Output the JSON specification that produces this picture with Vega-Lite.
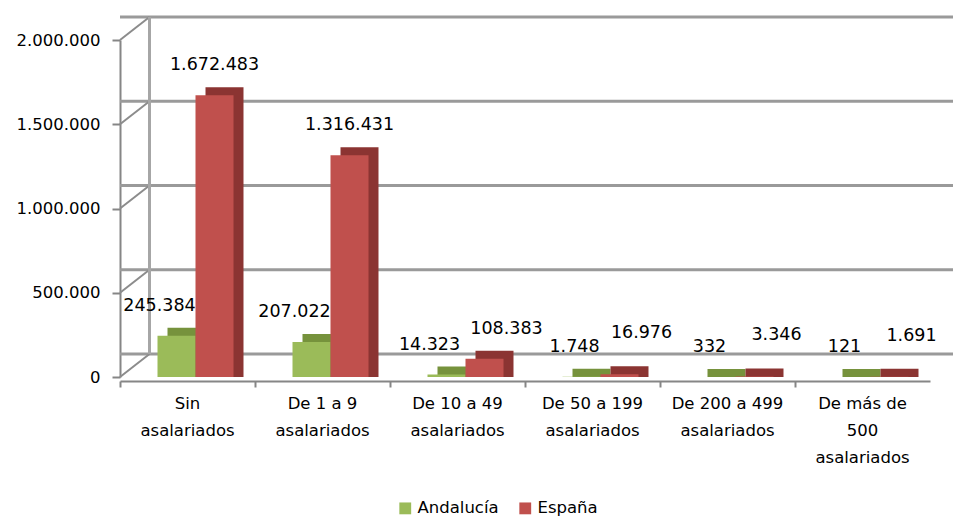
{
  "$schema": "https://vega.github.io/schema/vega-lite/v6.json",
  "width": 810,
  "height": 337,
  "autosize": "none",
  "padding": {"left": 120, "top": 40, "right": 23, "bottom": 142},
  "background": "white",
  "config": {
    "locale": {"number": {"decimal": ",", "thousands": ".", "grouping": [3], "currency": ["", ""]}},
    "font": "DejaVu Sans",
    "view": {"stroke": null},
    "text": {"font": "DejaVu Sans"}
  },
  "resolve": {"scale": {"color": "independent", "xOffset": "independent"}},
  "data": {
    "values": [
      {"cat": "Sin asalariados", "serie": "Andalucía", "valor": 245384},
      {"cat": "Sin asalariados", "serie": "España", "valor": 1672483},
      {"cat": "De 1 a 9 asalariados", "serie": "Andalucía", "valor": 207022},
      {"cat": "De 1 a 9 asalariados", "serie": "España", "valor": 1316431},
      {"cat": "De 10 a 49 asalariados", "serie": "Andalucía", "valor": 14323},
      {"cat": "De 10 a 49 asalariados", "serie": "España", "valor": 108383},
      {"cat": "De 50 a 199 asalariados", "serie": "Andalucía", "valor": 1748},
      {"cat": "De 50 a 199 asalariados", "serie": "España", "valor": 16976},
      {"cat": "De 200 a 499 asalariados", "serie": "Andalucía", "valor": 332},
      {"cat": "De 200 a 499 asalariados", "serie": "España", "valor": 3346},
      {"cat": "De más de 500 asalariados", "serie": "Andalucía", "valor": 121},
      {"cat": "De más de 500 asalariados", "serie": "España", "valor": 1691}
    ]
  },
  "layer": [
    {
      "data": {"values": [{"g": 0}, {"g": 500000}, {"g": 1000000}, {"g": 1500000}, {"g": 2000000}]},
      "mark": {"type": "rule", "color": "#9a9a9a", "strokeWidth": 3, "xOffset": 30, "yOffset": -23},
      "encoding": {
        "y": {"field": "g", "type": "quantitative", "scale": {"domain": [0, 2000000]},
              "axis": {
                "title": null, "format": ",d", "values": [0, 500000, 1000000, 1500000, 2000000], "grid": false,
                "domainColor": "#868686", "domainWidth": 2, "tickColor": "#868686", "tickWidth": 2, "tickSize": 8,
                "labelFontSize": 16.5, "labelColor": "#000000", "labelPadding": 12
              }}
      }
    },
    {
      "data": {"values": [{"g": 0}, {"g": 500000}, {"g": 1000000}, {"g": 1500000}, {"g": 2000000}]},
      "mark": {"type": "rule", "color": "#8c8c8c", "strokeWidth": 2, "y2Offset": -23},
      "encoding": {
        "x": {"datum": "Sin asalariados", "type": "nominal", "bandPosition": -0.388},
        "x2": {"datum": "Sin asalariados", "bandPosition": 0},
        "y": {"field": "g", "type": "quantitative"},
        "y2": {"field": "g"}
      }
    },
    {
      "data": {"values": [{"a": 0, "b": 2000000}]},
      "mark": {"type": "rule", "color": "#a6a6a6", "strokeWidth": 3, "yOffset": -23, "y2Offset": -23},
      "encoding": {
        "x": {"datum": "Sin asalariados", "type": "nominal", "bandPosition": 0},
        "y": {"field": "a", "type": "quantitative"},
        "y2": {"field": "b"}
      }
    },
    {
      "mark": {"type": "bar", "yOffset": -8, "y2Offset": 0.001},
      "encoding": {
        "x": {"field": "cat", "type": "nominal", "sort": null,
              "scale": {"domain": ["Sin asalariados", "De 1 a 9 asalariados", "De 10 a 49 asalariados", "De 50 a 199 asalariados", "De 200 a 499 asalariados", "De más de 500 asalariados"], "paddingInner": 0.437, "paddingOuter": 0.2185}},
        "xOffset": {"field": "serie", "type": "nominal", "scale": {"domain": ["Andalucía", "España"], "range": [18, 94], "paddingInner": 0, "paddingOuter": 0}},
        "y": {"field": "valor", "type": "quantitative", "stack": null},
        "y2": {"datum": 0},
        "color": {"field": "serie", "type": "nominal", "scale": {"domain": ["Andalucía", "España"], "range": ["#76923c", "#8b3432"]}, "legend": null}
      }
    },
    {
      "mark": {"type": "bar"},
      "encoding": {
        "x": {"field": "cat", "type": "nominal", "sort": null,
              "axis": {
                "title": null, "domainColor": "#868686", "domainWidth": 2, "tickColor": "#868686", "tickWidth": 2,
                "tickSize": 6, "bandPosition": -0.388, "offset": 4, "labelAngle": 0, "labelFontSize": 16.5, "labelColor": "#000000",
                "labelAlign": "center",
                "labelPadding": 8, "labelLineHeight": 27, "labelBaseline": "top", "labelLimit": 200,
                "labelExpr": "datum.value == 'De más de 500 asalariados' ? ['De más de', '500', 'asalariados'] : [replace(datum.value, ' asalariados', ''), 'asalariados']"
              }},
        "xOffset": {"field": "serie", "type": "nominal", "scale": {"domain": ["Andalucía", "España"], "range": [8, 84], "paddingInner": 0, "paddingOuter": 0}},
        "y": {"field": "valor", "type": "quantitative"},
        "color": {"field": "serie", "type": "nominal",
                  "scale": {"domain": ["Andalucía", "España"], "range": ["#9bbb59", "#c0504d"]},
                  "legend": {"title": null, "orient": "none", "legendX": 277, "legendY": 460, "direction": "horizontal",
                             "symbolType": "square", "symbolSize": 140, "symbolStrokeWidth": 0, "labelFontSize": 16.5, "labelColor": "#000000",
                             "labelOffset": 4, "columnPadding": 18}}
      }
    },
    {
      "transform": [{"filter": "datum.serie == 'Andalucía'"}],
      "mark": {"type": "text", "baseline": "alphabetic", "fontSize": 17.5, "color": "#000000",
               "dx": {"expr": "datum.valor > 10000 ? -17 : -7"}, "dy": -25},
      "encoding": {
        "x": {"field": "cat", "type": "nominal", "sort": null},
        "xOffset": {"field": "serie", "type": "nominal", "scale": {"domain": ["Andalucía", "España"], "range": [27, 65], "padding": 0}},
        "y": {"field": "valor", "type": "quantitative"},
        "text": {"field": "valor", "type": "quantitative", "format": ",d"}
      }
    },
    {
      "transform": [{"filter": "datum.serie == 'España'"}],
      "mark": {"type": "text", "baseline": "alphabetic", "fontSize": 17.5, "color": "#000000",
               "dx": {"expr": "datum.valor > 1000000 ? 0 : 22"}, "dy": {"expr": "datum.valor < 100000 ? -36 : -25"}},
      "encoding": {
        "x": {"field": "cat", "type": "nominal", "sort": null},
        "xOffset": {"field": "serie", "type": "nominal", "scale": {"domain": ["Andalucía", "España"], "range": [27, 65], "padding": 0}},
        "y": {"field": "valor", "type": "quantitative"},
        "text": {"field": "valor", "type": "quantitative", "format": ",d"}
      }
    }
  ]
}
